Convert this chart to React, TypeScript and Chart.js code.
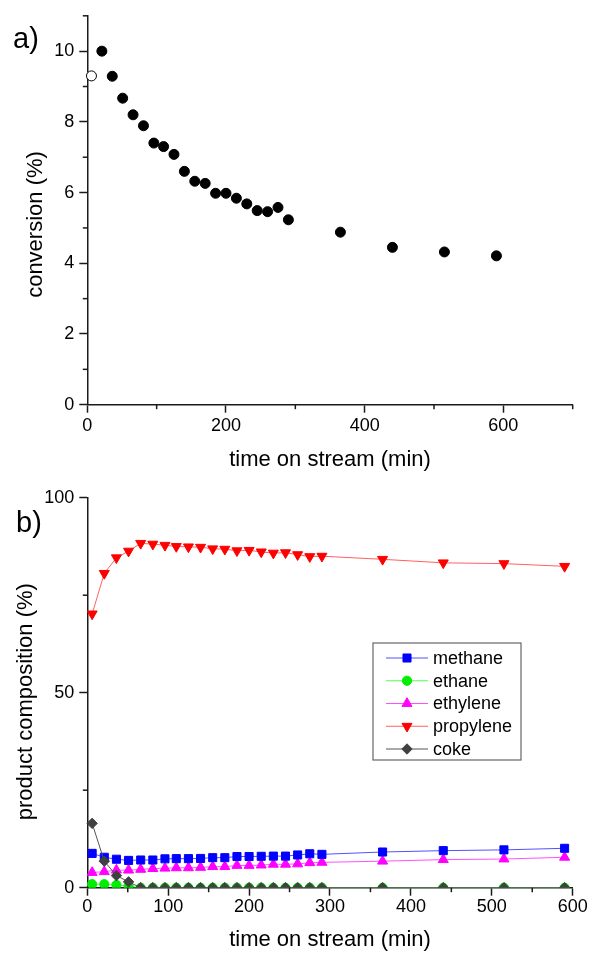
import React, { useEffect, useRef } from 'react';
import { Chart, registerables } from 'chart.js';

Chart.register(...registerables);

const FONT = '"Liberation Sans", Arial, Helvetica, sans-serif';
const AXIS = '#1a1a1a';

// ---------- panel a) conversion ----------
const openTime = [6];
const openConversion = [9.3];
const conversionTime = [21, 36, 51, 66, 81, 96, 110, 125, 140, 155, 170, 185, 200, 215, 230, 245, 260, 275, 290, 365, 440, 515, 590];
const conversion = [10.0, 9.29, 8.67, 8.2, 7.89, 7.4, 7.3, 7.08, 6.6, 6.32, 6.26, 5.98, 5.98, 5.84, 5.68, 5.49, 5.46, 5.58, 5.23, 4.88, 4.45, 4.32, 4.21];
const topXTicksMinor = [100, 300, 500, 700];
const topYTicksMinor = [1, 3, 5, 7, 9, 11];

// ---------- panel b) product composition ----------
const streamTime = [6, 21, 36, 51, 66, 81, 96, 110, 125, 140, 155, 170, 185, 200, 215, 230, 245, 260, 275, 290, 365, 440, 515, 590];
const methane = [8.8, 7.8, 7.3, 7.0, 7.1, 7.1, 7.4, 7.45, 7.45, 7.5, 7.7, 7.7, 8.0, 8.0, 8.05, 8.1, 8.1, 8.4, 8.7, 8.55, 9.15, 9.5, 9.7, 10.1];
const ethane = [0.9, 0.9, 0.7, 0.4, 0, 0, 0, 0, 0, 0, 0, 0, 0, 0, 0, 0, 0, 0, 0, 0, 0, 0, 0, 0];
const ethylene = [3.9, 4.1, 4.5, 4.5, 4.7, 4.9, 5.0, 5.1, 5.1, 5.2, 5.4, 5.4, 5.7, 5.7, 5.8, 6.0, 6.0, 6.1, 6.4, 6.5, 6.8, 7.2, 7.35, 7.8];
const propylene = [70.2, 80.6, 84.6, 86.3, 88.3, 88.1, 87.8, 87.5, 87.4, 87.3, 86.9, 86.8, 86.4, 86.5, 86.1, 85.8, 85.9, 85.4, 84.9, 85.0, 84.2, 83.3, 83.1, 82.4];
const coke = [16.5, 6.8, 3.1, 1.5, 0, 0, 0, 0, 0, 0, 0, 0, 0, 0, 0, 0, 0, 0, 0, 0, 0, 0, 0, 0];
const botXTicksMinor = [50, 150, 250, 350, 450, 550];
const botYTicksMinor = [25, 75];

const pts = (xs: number[], ys: number[]) => xs.map((x, i) => ({ x, y: ys[i] }));

function marker(ctx: CanvasRenderingContext2D, style: string, x: number, y: number, r: number, rot = 0) {
  ctx.beginPath();
  if (style === 'circle') {
    ctx.arc(x, y, r, 0, Math.PI * 2);
  } else if (style === 'rect') {
    const s = r * Math.SQRT1_2;
    ctx.rect(x - s, y - s, 2 * s, 2 * s);
  } else if (style === 'triangle') {
    let rad = (rot * Math.PI) / 180;
    ctx.moveTo(x + Math.sin(rad) * r, y - Math.cos(rad) * r);
    rad += (2 * Math.PI) / 3;
    ctx.lineTo(x + Math.sin(rad) * r, y - Math.cos(rad) * r);
    rad += (2 * Math.PI) / 3;
    ctx.lineTo(x + Math.sin(rad) * r, y - Math.cos(rad) * r);
    ctx.closePath();
  } else if (style === 'rectRot') {
    ctx.moveTo(x, y - r);
    ctx.lineTo(x + r, y);
    ctx.lineTo(x, y + r);
    ctx.lineTo(x - r, y);
    ctx.closePath();
  }
  ctx.fill();
  ctx.stroke();
}

interface DecorOpts {
  panel: string;
  panelX: number;
  panelY: number;
  xTitle: string;
  xTitleY: number;
  yTitle: string;
  yTitleX: number;
  yTitleY: number;
  xMinor: number[];
  yMinor: number[];
  legend?: { dx: number; dy: number; w: number; h: number; first: number; step: number };
}

function decor(o: DecorOpts) {
  return {
    id: 'decor',
    afterDraw(chart: any) {
      const ctx: CanvasRenderingContext2D = chart.ctx;
      const { left, right, top, bottom } = chart.chartArea;
      const xs = chart.scales.x;
      const ys = chart.scales.y;
      ctx.save();
      // minor ticks
      ctx.strokeStyle = AXIS;
      ctx.lineWidth = 1.5;
      for (const v of o.xMinor) {
        const px = xs.getPixelForValue(v);
        ctx.beginPath();
        ctx.moveTo(px, bottom);
        ctx.lineTo(px, bottom + 4.5);
        ctx.stroke();
      }
      for (const v of o.yMinor) {
        const py = ys.getPixelForValue(v);
        ctx.beginPath();
        ctx.moveTo(left, py);
        ctx.lineTo(left - 4.5, py);
        ctx.stroke();
      }
      // texts
      ctx.fillStyle = '#000';
      ctx.textBaseline = 'alphabetic';
      ctx.textAlign = 'left';
      ctx.font = `29px ${FONT}`;
      ctx.fillText(o.panel, o.panelX, o.panelY);
      ctx.font = `22px ${FONT}`;
      ctx.textAlign = 'center';
      ctx.fillText(o.xTitle, (left + right) / 2, o.xTitleY);
      ctx.save();
      ctx.translate(o.yTitleX, o.yTitleY);
      ctx.rotate(-Math.PI / 2);
      ctx.fillText(o.yTitle, 0, 0);
      ctx.restore();
      // legend
      if (o.legend) {
        const L = o.legend;
        const bx = left + L.dx;
        const by = top + L.dy;
        ctx.strokeStyle = '#666';
        ctx.lineWidth = 1.2;
        ctx.strokeRect(bx, by, L.w, L.h);
        ctx.font = `18px ${FONT}`;
        ctx.textAlign = 'left';
        ctx.textBaseline = 'middle';
        chart.data.datasets.forEach((ds: any, i: number) => {
          const cy = by + L.first + i * L.step;
          ctx.strokeStyle = ds.borderColor;
          ctx.lineWidth = 1;
          ctx.beginPath();
          ctx.moveTo(bx + 13, cy);
          ctx.lineTo(bx + 55, cy);
          ctx.stroke();
          ctx.fillStyle = ds.pointBackgroundColor;
          ctx.strokeStyle = ds.pointBorderColor;
          ctx.lineWidth = 1;
          marker(ctx, ds.pointStyle, bx + 34, cy, ds.pointRadius, ds.pointRotation || 0);
          ctx.fillStyle = '#000';
          ctx.fillText(ds.label, bx + 60, cy + 1);
        });
      }
      ctx.restore();
    },
  };
}

const tickFont = { family: FONT, size: 18 };
const bottomOnlyClip = { left: 20, top: 20, right: 20, bottom: 0 };

function topConfig(): any {
  return {
    type: 'scatter',
    data: {
      datasets: [
        {
          label: 'conversion',
          data: pts(conversionTime, conversion),
          pointStyle: 'circle',
          pointRadius: 5,
          pointBackgroundColor: '#000',
          pointBorderColor: '#000',
          pointBorderWidth: 1,
          showLine: false,
          clip: false,
        },
        {
          label: 'initial',
          data: pts(openTime, openConversion),
          pointStyle: 'circle',
          pointRadius: 5,
          pointBackgroundColor: '#fff',
          pointBorderColor: '#000',
          pointBorderWidth: 1,
          showLine: false,
          clip: false,
        },
      ],
    },
    options: {
      responsive: true,
      maintainAspectRatio: false,
      animation: false,
      events: [],
      layout: { padding: { top: 15, right: 18.3, left: 0, bottom: 0 } },
      plugins: { legend: { display: false }, tooltip: { enabled: false } },
      scales: {
        x: {
          type: 'linear',
          min: 0,
          max: 700,
          afterFit: (s: any) => {
            s.height = 75.3;
          },
          ticks: { stepSize: 200, includeBounds: false, autoSkip: false, maxRotation: 0, font: tickFont, color: '#000', padding: 3 },
          grid: { drawOnChartArea: false, tickLength: 8, tickWidth: 1.5, tickColor: AXIS },
          border: { color: AXIS, width: 1.5 },
        },
        y: {
          type: 'linear',
          min: 0,
          max: 11,
          afterFit: (s: any) => {
            s.width = 87.3;
          },
          ticks: { stepSize: 2, includeBounds: false, autoSkip: false, font: tickFont, color: '#000', padding: 5 },
          grid: { drawOnChartArea: false, tickLength: 8, tickWidth: 1.5, tickColor: AXIS },
          border: { color: AXIS, width: 1.5 },
        },
      },
    },
    plugins: [
      decor({
        panel: 'a)',
        panelX: 13,
        panelY: 48,
        xTitle: 'time on stream (min)',
        xTitleY: 466,
        yTitle: 'conversion (%)',
        yTitleX: 42,
        yTitleY: 224.5,
        xMinor: topXTicksMinor,
        yMinor: topYTicksMinor,
      }),
    ],
  };
}

function series(label: string, ys: number[], line: string, fill: string, style: string, r: number, order: number, rot = 0) {
  return {
    label,
    data: pts(streamTime, ys),
    borderColor: line,
    borderWidth: 1,
    pointStyle: style,
    pointRadius: r,
    pointRotation: rot,
    pointBackgroundColor: fill,
    pointBorderColor: fill,
    pointBorderWidth: 1,
    showLine: true,
    tension: 0,
    clip: bottomOnlyClip,
    order,
  };
}

function bottomConfig(): any {
  return {
    type: 'line',
    data: {
      datasets: [
        series('methane', methane, '#5050ff', '#0000ff', 'rect', 5.7, 3),
        series('ethane', ethane, '#50ff50', '#00ee00', 'circle', 4.6, 2),
        series('ethylene', ethylene, '#ff50ff', '#ff00ff', 'triangle', 5.8, 4),
        series('propylene', propylene, '#ff6060', '#ff0000', 'triangle', 5.8, 5, 180),
        series('coke', coke, '#555555', '#404040', 'rectRot', 5.2, 1),
      ],
    },
    options: {
      responsive: true,
      maintainAspectRatio: false,
      animation: false,
      events: [],
      layout: { padding: { top: 22.7, right: 18.3, left: 0, bottom: 0 } },
      plugins: { legend: { display: false }, tooltip: { enabled: false } },
      scales: {
        x: {
          type: 'linear',
          min: 0,
          max: 600,
          afterFit: (s: any) => {
            s.height = 65.3;
          },
          ticks: { stepSize: 100, autoSkip: false, maxRotation: 0, font: tickFont, color: '#000', padding: 1 },
          grid: { drawOnChartArea: false, tickLength: 8, tickWidth: 1.5, tickColor: AXIS },
          border: { color: AXIS, width: 1.5 },
        },
        y: {
          type: 'linear',
          min: 0,
          max: 100,
          afterFit: (s: any) => {
            s.width = 87.3;
          },
          ticks: { stepSize: 50, autoSkip: false, font: tickFont, color: '#000', padding: 5 },
          grid: { drawOnChartArea: false, tickLength: 8, tickWidth: 1.5, tickColor: AXIS },
          border: { color: AXIS, width: 1.5 },
        },
      },
    },
    plugins: [
      decor({
        panel: 'b)',
        panelX: 16,
        panelY: 57,
        xTitle: 'time on stream (min)',
        xTitleY: 471,
        yTitle: 'product composition (%)',
        yTitleX: 32,
        yTitleY: 226.7,
        xMinor: botXTicksMinor,
        yMinor: botYTicksMinor,
        legend: { dx: 285.7, dy: 145.3, w: 148, h: 117, first: 15, step: 22.75 },
      }),
    ],
  };
}

export default function App() {
  const topRef = useRef<HTMLCanvasElement>(null);
  const botRef = useRef<HTMLCanvasElement>(null);
  useEffect(() => {
    const a = new Chart(topRef.current as HTMLCanvasElement, topConfig());
    const b = new Chart(botRef.current as HTMLCanvasElement, bottomConfig());
    return () => {
      a.destroy();
      b.destroy();
    };
  }, []);
  return (
    <div style={{ position: 'absolute', left: 0, top: 0, width: 591, height: 953, background: '#fff' }}>
      <div style={{ position: 'absolute', left: 0, top: 0, width: 591, height: 480 }}>
        <canvas ref={topRef} />
      </div>
      <div style={{ position: 'absolute', left: 0, top: 475, width: 591, height: 478 }}>
        <canvas ref={botRef} />
      </div>
    </div>
  );
}
